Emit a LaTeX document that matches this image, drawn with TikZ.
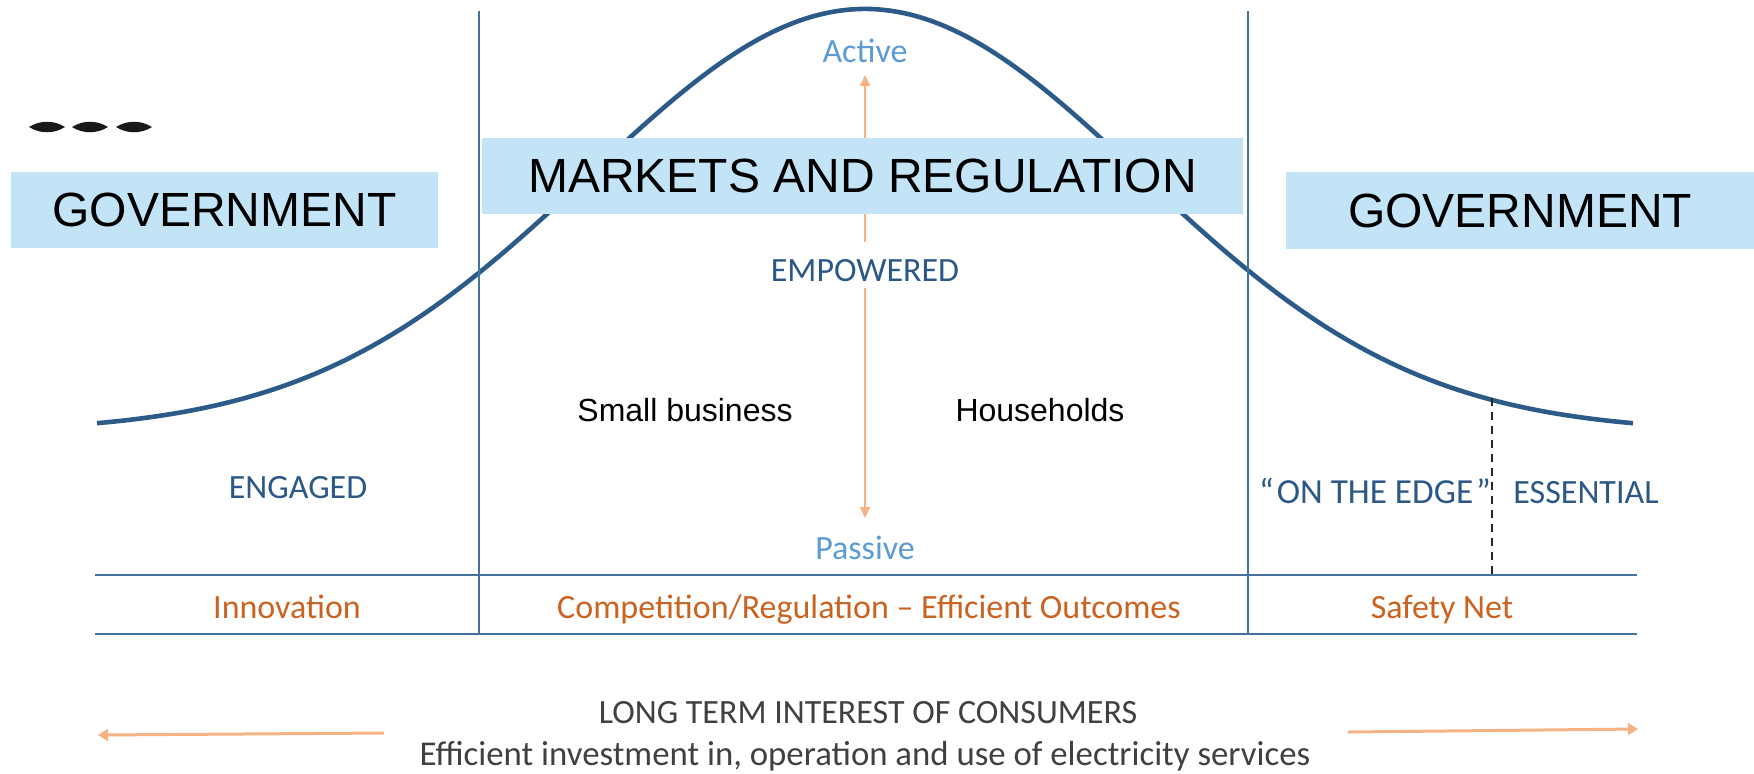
\documentclass[tikz,border=0pt]{standalone}
\usepackage{fontspec}
\setmainfont{Carlito}
\newfontfamily\arialfont{Liberation Sans}
\usetikzlibrary{arrows.meta}

\definecolor{curveblue}{HTML}{2D5B89}
\definecolor{ruleblue}{HTML}{46739E}
\definecolor{darkblue}{HTML}{2B5887}
\definecolor{lightblue}{HTML}{5B9BD5}
\definecolor{rust}{HTML}{C9631F}
\definecolor{peach}{HTML}{F5B284}
\definecolor{boxfill}{HTML}{C3E4F7}
\definecolor{greytext}{HTML}{404040}

\tikzset{
  banner/.style={fill=boxfill, inner sep=0pt, text=black,
    font=\arialfont\fontsize{24}{28}\selectfont},
  calib/.style={inner sep=0pt, anchor=base, font=\fontsize{17}{20}\selectfont},
  segment/.style={calib, text=darkblue},
  pole/.style={calib, text=lightblue},
  outcome/.style={calib, text=rust},
  customer/.style={inner sep=0pt, anchor=base, text=black,
    font=\arialfont\fontsize{16}{19}\selectfont},
  rule/.style={draw=ruleblue, line width=1pt},
  bell/.style={draw=curveblue, line width=2.3pt},
  scalearrow/.style={draw=peach, line width=1pt,
    {Triangle[length=5.5pt,width=5pt]}-{Triangle[length=5.5pt,width=5pt]}},
  widearrow/.style={draw=peach, line width=1.5pt,
    -{Triangle[length=5pt,width=6pt]}},
  lens/.style={fill=black!90}
}

\begin{document}
\begin{tikzpicture}[x=0.5pt, y=-0.5pt]
\useasboundingbox (0,0) rectangle (1754,773);

% bell curve of customer engagement
\draw[bell] plot[domain=97:1633, samples=220, smooth]
  (\x, {432-423*exp(-(((\x-865)/100)*((\x-865)/100))/15.2494)});

% column dividers and the outcome row
\coordinate (divLtop) at (479,11);
\coordinate (divLbot) at (479,634);
\coordinate (divRtop) at (1248,11);
\coordinate (divRbot) at (1248,634);
\coordinate (rowTopL) at (95,575);
\coordinate (rowTopR) at (1637,575);
\coordinate (rowBotL) at (95,634);
\coordinate (rowBotR) at (1637,634);
\draw[rule] (divLtop) -- (divLbot);
\draw[rule] (divRtop) -- (divRbot);
\draw[rule] (rowTopL) -- (rowTopR);
\draw[rule] (rowBotL) -- (rowBotR);

% split of the safety-net segment
\coordinate (splitTop) at (1492,398);
\coordinate (splitBot) at (1492,575);
\draw[black!85, line width=0.8pt, dash pattern=on 4pt off 3pt] (splitTop) -- (splitBot);

% active / passive scale
\coordinate (scaleTop) at (865,75);
\coordinate (scaleBot) at (865,518);
\draw[scalearrow] (scaleTop) -- (scaleBot);

% three marks in the top left corner
\foreach \cx in {47,90,134} {
  \fill[lens] (\cx-18,127) .. controls (\cx-7,120) and (\cx+7,120) .. (\cx+18,127)
                          .. controls (\cx+7,134) and (\cx-7,134) .. cycle;
}

% banners
\node[banner, minimum width=213.5pt, minimum height=38pt] (govLeft) at (224.5,210) {GOVERNMENT};
\node[banner, minimum width=380.5pt, minimum height=38pt] (markets) at (862.5,176) {MARKETS AND REGULATION};
\node[banner, minimum width=234pt, minimum height=38.5pt] (govRight) at (1520,210.5) {GOVERNMENT};

% scale labels
\node[pole] (active) at (865,62) {Active};
\node[pole] (passive) at (865,559) {Passive};
\node[segment, fill=white, inner xsep=3pt, text height=19.5pt, text depth=3.5pt] (empowered) at (865,281) {EMPOWERED};

% customer groups
\node[customer] (smallbiz) at (685,421) {Small business};
\node[customer] (households) at (1040,421) {Households};

% segments
\node[segment] (engaged) at (298,498) {ENGAGED};
\node[segment, font=\fontsize{17.6}{20}\selectfont] (edge) at (1375,503) {“\hspace{1.5pt}ON THE EDGE\hspace{1.5pt}”};
\node[segment] (essential) at (1586,503) {ESSENTIAL};

% outcomes
\node[outcome] (innovation) at (287,618) {Innovation};
\node[outcome] (competition) at (869,618) {Competition/Regulation – Efficient Outcomes};
\node[outcome] (safety) at (1442,618) {Safety Net};

% long term interest
\node[calib, text=greytext] (lti) at (868,723) {LONG TERM INTEREST OF CONSUMERS};
\node[calib, text=greytext, font=\fontsize{17.4}{21}\selectfont] (nem) at (865,765)
  {Efficient investment in, operation and use of electricity services};

\coordinate (leftStart) at (384,733);
\coordinate (leftEnd) at (98,735);
\coordinate (rightStart) at (1348,732);
\coordinate (rightEnd) at (1638,729);
\draw[widearrow] (leftStart) -- (leftEnd);
\draw[widearrow] (rightStart) -- (rightEnd);
\end{tikzpicture}
\end{document}
